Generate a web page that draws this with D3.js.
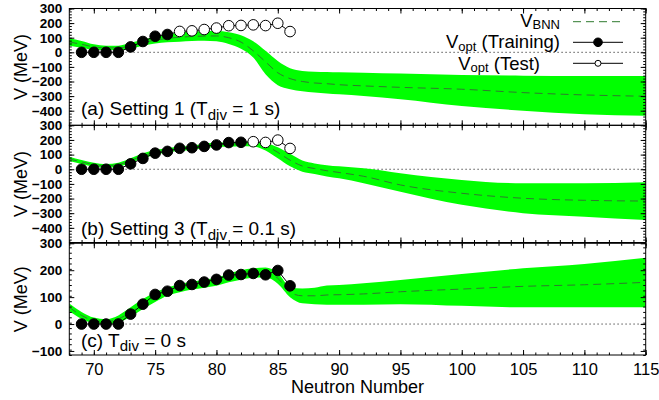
<!DOCTYPE html>
<html>
<head>
<meta charset="utf-8">
<script src="https://cdn.jsdelivr.net/npm/d3@7"></script>
<style>
  body { margin: 0; background: #fff; }
  text { font-family: "Liberation Sans", Arial, sans-serif; }
</style>
</head>
<body>
<div id="chart"></div>
<script>
// neutron numbers where the BNN band was read
var gridN = [68,69,70,71,72,73,74,75,76,77,78,79,80,81,82,83,84,85,86,87,88,89,90,92,95,100,105,110,115];

// (a) Setting 1
var aLo  = [45,32,18,15,16,25,45,60,68,73,77,79,75,57,25,-35,-150,-225,-253,-267,-275,-282,-288,-300,-322,-368,-400,-425,-434];
var aHi  = [96,78,55,45,45,65,88,105,122,135,142,146,146,138,117,75,10,-60,-110,-128,-133,-135,-137,-140,-146,-155,-160,-162,-162];
var aMid = [70,55,37,30,30,45,66,83,95,103,108,111,112,100,70,10,-65,-140,-180,-200,-210,-215,-222,-230,-240,-253,-276,-292,-301];

// (b) Setting 3
var bLo  = [57,36,18,11,18,45,75,98,116,125,132,143,152,154,157,156,128,75,20,-17,-32,-50,-62,-96,-153,-243,-300,-324,-346];
var bHi  = [86,63,45,36,45,75,109,132,143,155,161,174,182,185,188,188,180,150,105,60,40,28,20,7,-27,-73,-96,-96,-89];
var bMid = [70,50,32,24,32,60,92,115,130,140,147,157,167,170,172,172,160,115,62,22,5,-10,-22,-48,-107,-164,-198,-212,-217];

// (c) Tdiv = 0
var cLo  = [48,20,3,0,6,27,56,82,105,118,128,135,142,155,165,172,173,150,100,77,74,72,72,72,74,68,62,62,62];
var cHi  = [76,45,24,18,32,62,93,118,136,148,158,165,172,188,200,207,210,190,138,132,135,143,145,152,164,186,207,223,246];
var cMid = [62,32,13,9,19,44,74,100,120,133,143,150,157,172,183,190,192,170,118,105,105,108,109,112,120,130,140,146,155];

// optimized potential
var optN = [69,70,71,72,73,74,75,76,77,78,79,80,81,82,83,84,85,86];
var vOpt = [0,0,0,0,37,74,110,122,143,147,156,166,182,184,188,183,199,142];

var xTicks = [70,75,80,85,90,95,100,105,110,115];
var yTicksWide = [300,200,100,0,-100,-200,-300,-400];
var yTicksNarrow = [300,200,100,0,-100];

var W = 659, H = 400;
var left = 69.3, right = 645.7;
var green = "#00ff00";
var dashCol = "#2f7a2f";

var svg = d3.select("#chart").append("svg").attr("width", W).attr("height", H);

var x = d3.scaleLinear().domain([68, 115]).range([left, right]);

var panels = [
  {top: 8.5,   bottom: 125.3, dom: [-500, 300], lo: aLo, hi: aHi, mid: aMid, lastTrain: 76,
   ticks: yTicksWide, label: ["(a) Setting 1 (T", "div", " = 1 s)"], labelY: 115},
  {top: 125.3, bottom: 242.5, dom: [-500, 300], lo: bLo, hi: bHi, mid: bMid, lastTrain: 82,
   ticks: yTicksWide, label: ["(b) Setting 3 (T", "div", " = 0.1 s)"], labelY: 235},
  {top: 243.3, bottom: 355,   dom: [-115, 300], lo: cLo, hi: cHi, mid: cMid, lastTrain: 86,
   ticks: yTicksNarrow, label: ["(c) T", "div", " = 0 s"], labelY: 346.7}
];

// writes main/sub/rest as separate text pieces; anchor "start" or "end" at x0
function subText(parent, x0, base, parts, size, subSize, subDy, anchor) {
  var pieces = [
    {s: parts[0], size: size, dy: 0},
    {s: parts[1], size: subSize, dy: subDy},
    {s: parts[2], size: size, dy: 0}
  ].filter(function(d) { return d.s; });
  var nodes = pieces.map(function(d) {
    return parent.append("text").attr("y", base + d.dy).attr("font-size", d.size)
      .attr("xml:space", "preserve").style("white-space", "pre").text(d.s);
  });
  var widths = nodes.map(function(n) { return n.node().getComputedTextLength(); });
  var total = d3.sum(widths);
  var cx = anchor === "end" ? x0 - total : x0;
  nodes.forEach(function(n, i) { n.attr("x", cx); cx += widths[i]; });
}

panels.forEach(function(p, pi) {
  var y = d3.scaleLinear().domain(p.dom).range([p.bottom, p.top]);
  var g = svg.append("g");
  var clipId = "clip" + pi;
  svg.append("clipPath").attr("id", clipId).append("rect")
    .attr("x", left).attr("y", p.top).attr("width", right - left).attr("height", p.bottom - p.top);

  var plot = g.append("g").attr("clip-path", "url(#" + clipId + ")");

  // zero line
  plot.append("line")
    .attr("x1", x(69)).attr("x2", right)
    .attr("y1", y(0)).attr("y2", y(0))
    .attr("stroke", "#000").attr("stroke-width", 1).attr("stroke-dasharray", "1,3");

  var band = gridN.map(function(n, i) { return {n: n, lo: p.lo[i], hi: p.hi[i], mid: p.mid[i]}; });

  plot.append("path").datum(band)
    .attr("fill", green)
    .attr("d", d3.area().x(function(d) { return x(d.n); })
      .y0(function(d) { return y(d.lo); }).y1(function(d) { return y(d.hi); })
      .curve(d3.curveMonotoneX));

  plot.append("path").datum(band)
    .attr("fill", "none").attr("stroke", dashCol).attr("stroke-width", 1)
    .attr("stroke-dasharray", "8,5")
    .attr("d", d3.line().x(function(d) { return x(d.n); }).y(function(d) { return y(d.mid); })
      .curve(d3.curveMonotoneX));

  var pts = optN.map(function(n, i) { return {n: n, v: vOpt[i]}; });

  plot.append("path").datum(pts)
    .attr("fill", "none").attr("stroke", "#000").attr("stroke-width", 1)
    .attr("d", d3.line().x(function(d) { return x(d.n); }).y(function(d) { return y(d.v); }));

  plot.selectAll("circle.pt").data(pts).enter().append("circle")
    .attr("class", "pt")
    .attr("cx", function(d) { return x(d.n); })
    .attr("cy", function(d) { return y(d.v); })
    .attr("r", 5.3)
    .attr("fill", function(d) { return d.n <= p.lastTrain ? "#000" : "#fff"; })
    .attr("stroke", "#000").attr("stroke-width", 1);

  // ticks, inward on all four sides
  var minorY = d3.range(p.dom[0], p.dom[1] + 1, 20);
  var minorX = d3.range(68, 116, 1);

  function strip(sel) { sel.select(".domain").remove(); sel.selectAll("line").attr("stroke-width", 1); }

  g.append("g").attr("transform", "translate(" + left + ",0)")
    .call(d3.axisLeft(y).tickValues(minorY).tickSize(-2.5).tickFormat("")).call(strip);
  g.append("g").attr("transform", "translate(" + right + ",0)")
    .call(d3.axisRight(y).tickValues(minorY).tickSize(-2.5).tickFormat("")).call(strip);
  g.append("g").attr("transform", "translate(" + right + ",0)")
    .call(d3.axisRight(y).tickValues(p.ticks).tickSize(-5).tickFormat("")).call(strip);
  g.append("g").attr("transform", "translate(0," + p.top + ")")
    .call(d3.axisTop(x).tickValues(minorX).tickSize(-2.5).tickFormat("")).call(strip);
  g.append("g").attr("transform", "translate(0," + p.top + ")")
    .call(d3.axisTop(x).tickValues(xTicks).tickSize(-5).tickFormat("")).call(strip);
  g.append("g").attr("transform", "translate(0," + p.bottom + ")")
    .call(d3.axisBottom(x).tickValues(minorX).tickSize(-2.5).tickFormat("")).call(strip);

  var yAxis = g.append("g").attr("transform", "translate(" + left + ",0)")
    .call(d3.axisLeft(y).tickValues(p.ticks).tickSize(-5).tickPadding(7)).call(strip);
  yAxis.selectAll("text").attr("font-size", 13.5).attr("font-weight", "bold")
    .attr("font-family", "Liberation Sans, Arial, sans-serif").attr("fill", "#000");

  var xAxis = g.append("g").attr("transform", "translate(0," + p.bottom + ")")
    .call(d3.axisBottom(x).tickValues(xTicks).tickSize(-5).tickPadding(8)
      .tickFormat(pi === 2 ? d3.format("d") : ""))
    .call(strip);
  xAxis.selectAll("text").attr("font-size", 16.5)
    .attr("font-family", "Liberation Sans, Arial, sans-serif").attr("fill", "#000");

  g.append("rect")
    .attr("x", left).attr("y", p.top).attr("width", right - left).attr("height", p.bottom - p.top)
    .attr("fill", "none").attr("stroke", "#000").attr("stroke-width", 1);

  // axis title
  var cy = (p.top + p.bottom) / 2;
  g.append("text")
    .attr("transform", "translate(27," + cy + ") rotate(-90)")
    .attr("text-anchor", "middle").attr("font-size", 18)
    .text("V (MeV)");

  // panel label
  subText(g, 81, p.labelY, p.label, 19, 15, 4.5, "start");
});

// x-axis title
svg.append("text")
  .attr("x", (left + right) / 2).attr("y", 393)
  .attr("text-anchor", "middle").attr("font-size", 18)
  .text("Neutron Number");

// legend
var leg = svg.append("g");
var legRows = [
  {parts: ["V", "BNN", ""], textEnd: 560, base: 26.5, ly: 21.7, kind: "bnn"},
  {parts: ["V", "opt", " (Training)"], textEnd: 560, base: 48.2, ly: 42.3, kind: "train"},
  {parts: ["V", "opt", " (Test)"], textEnd: 540, base: 69.8, ly: 63.3, kind: "test"}
];
legRows.forEach(function(r) {
  subText(leg, r.textEnd, r.base, r.parts, 18.5, 13, 2.5, "end");

  var ln = leg.append("line").attr("x1", 573).attr("x2", 623).attr("y1", r.ly).attr("y2", r.ly)
    .attr("stroke-width", 1);
  if (r.kind === "bnn") {
    ln.attr("stroke", dashCol).attr("stroke-dasharray", "8,5");
  } else {
    ln.attr("stroke", "#000");
    leg.append("circle").attr("cx", 598).attr("cy", r.ly)
      .attr("r", r.kind === "train" ? 4.3 : 3)
      .attr("fill", r.kind === "train" ? "#000" : "#fff")
      .attr("stroke", "#000").attr("stroke-width", 1);
  }
});
</script>
</body>
</html>
